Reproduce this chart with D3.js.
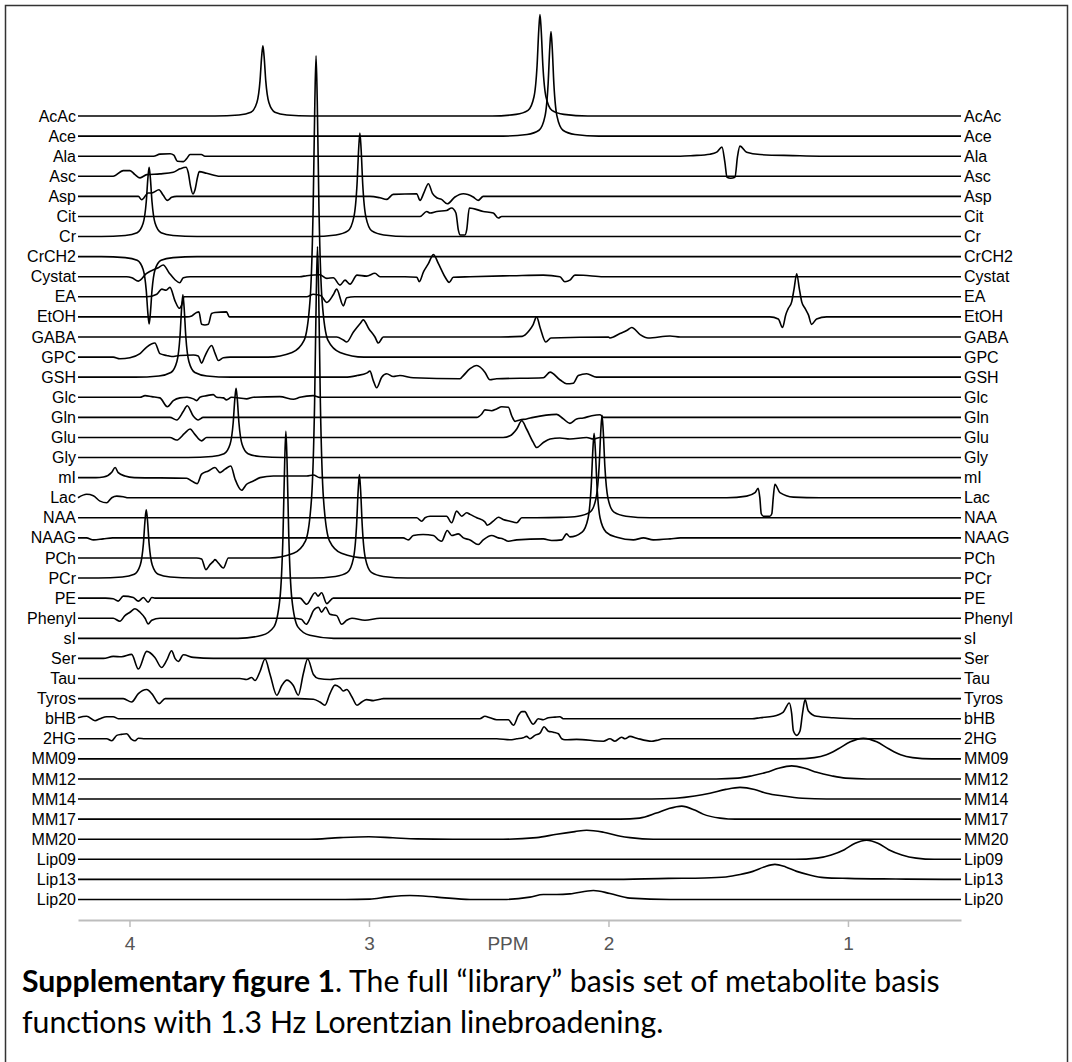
<!DOCTYPE html>
<html>
<head>
<meta charset="utf-8">
<script src="https://cdn.jsdelivr.net/npm/d3@7"></script>
<style>
  body { margin: 0; background: #fff; }
  svg { display: block; }
</style>
</head>
<body>
<script>

// metabolite names, top to bottom
const names = ["AcAc","Ace","Ala","Asc","Asp","Cit","Cr","CrCH2","Cystat","EA","EtOH","GABA","GPC","GSH","Glc","Gln","Glu","Gly","mI","Lac","NAA","NAAG","PCh","PCr","PE","Phenyl","sI","Ser","Tau","Tyros","bHB","2HG","MM09","MM12","MM14","MM17","MM20","Lip09","Lip13","Lip20"];

// each spectrum: [ppm, intensity] (1 unit = one row spacing)
const sp_AcAc = [[3.643,0],[3.543,0.05],[3.493,0.19],[3.468,0.67],[3.455,1.75],[3.448,2.98],[3.443,3.5],[3.438,2.98],[3.431,1.75],[3.418,0.67],[3.393,0.19],[3.343,0.05],[3.243,0],
  [2.486,0],[2.386,0.08],[2.336,0.28],[2.311,0.96],[2.298,2.53],[2.291,4.29],[2.286,5.05],[2.281,4.29],[2.274,2.53],[2.261,0.96],[2.236,0.28],[2.186,0.08],[2.086,0]];
const sp_Ace = [[2.44,0],[2.34,0.08],[2.29,0.29],[2.265,0.99],[2.252,2.6],[2.245,4.42],[2.24,5.2],[2.235,4.42],[2.228,2.6],[2.215,0.99],[2.19,0.29],[2.14,0.08],[2.04,0]];
const sp_Ala = [[3.90,0],[3.873,0.1],[3.83,0.12],[3.815,0.05],[3.80,-0.25],[3.775,-0.27],[3.76,-0.1],[3.747,0.08],[3.70,0.08],[3.685,0],
  [1.70,0],[1.647,0.03],[1.576,0.1],[1.548,0.2],[1.526,0.45],[1.514,-0.3],[1.505,-1.05],[1.49,-1.1],[1.472,-1.05],[1.461,0],[1.451,0.5],[1.423,0.2],[1.367,0.08],[1.23,0.03],[1.117,0]];
const sp_Asc = [[4.09,0],[4.068,0],[4.026,0.28],[3.998,0.28],[3.977,0.08],[3.956,-0.08],[3.928,0.08],[3.873,0.12],[3.817,0.2],[3.789,0.37],[3.764,0.45],[3.755,0.2],[3.745,-0.5],[3.735,-0.88],[3.727,-0.7],[3.715,0],[3.709,0.23],[3.678,0.15],[3.622,0]];
const sp_Asp = [[3.98,0],[3.963,0],[3.949,-0.17],[3.922,0.17],[3.907,0.17],[3.877,0.33],[3.859,0.05],[3.842,-0.2],[3.824,-0.05],[3.803,0],
  [3.02,0],[2.996,0],[2.954,-0.07],[2.926,-0.15],[2.899,0.1],[2.801,0.13],[2.787,-0.2],[2.77,0.2],[2.752,0.63],[2.735,0.15],[2.717,-0.07],[2.697,-0.15],[2.673,-0.37],[2.641,-0.03],[2.606,0.13],[2.565,-0.03],[2.544,-0.2],[2.523,0],[2.50,0]];
const sp_Cit = [[2.80,0],[2.787,0],[2.759,0.25],[2.745,0.17],[2.717,0.25],[2.676,0.3],[2.655,0.42],[2.637,0.17],[2.627,-0.67],[2.62,-0.92],[2.599,-0.92],[2.592,-0.67],[2.581,0.42],[2.523,0.25],[2.481,0.17],[2.46,-0.08],[2.446,0],[2.42,0]];
const sp_Cr = [[4.118,0],[4.018,0.05],[3.968,0.19],[3.943,0.66],[3.93,1.73],[3.923,2.93],[3.918,3.45],[3.913,2.93],[3.906,1.73],[3.893,0.66],[3.868,0.19],[3.818,0.05],[3.718,0],
  [3.238,0],[3.138,0.08],[3.088,0.28],[3.063,0.98],[3.05,2.58],[3.043,4.38],[3.038,5.15],[3.033,4.38],[3.026,2.58],[3.013,0.98],[2.988,0.28],[2.938,0.08],[2.838,0]];
const sp_CrCH2 = [[4.118,0],[4.018,-0.05],[3.968,-0.18],[3.943,-0.64],[3.93,-1.68],[3.923,-2.85],[3.918,-3.35],[3.913,-2.85],[3.906,-1.68],[3.893,-0.64],[3.868,-0.18],[3.818,-0.05],[3.718,0]];
const sp_Cystat = [[4.03,0],[4.012,0],[3.99,-0.05],[3.963,-0.22],[3.93,0.15],[3.88,0.45],[3.859,0.58],[3.835,0.2],[3.81,-0.15],[3.79,-0.3],[3.775,-0.05],[3.747,0],
  [3.29,0],[3.26,0.05],[3.205,0.1],[3.176,-0.08],[3.149,-0.05],[3.121,-0.42],[3.10,-0.17],[3.079,-0.37],[3.05,0.08],[3.01,0.03],[2.975,0.17],[2.954,0],[2.85,0],[2.80,-0.03],[2.79,-0.25],[2.772,0.25],[2.752,0.65],[2.731,1.1],[2.71,0.65],[2.683,0],[2.665,-0.28],[2.648,-0.03],[2.578,0],[2.40,0.05],[2.272,0.08],[2.203,0],[2.182,-0.25],[2.161,-0.17],[2.14,0.08],[2.105,0.07],[2.022,0],[1.98,0]];
const sp_EA = [[3.96,0],[3.928,0],[3.886,0.13],[3.865,0.38],[3.847,0.33],[3.831,0.47],[3.81,-0.2],[3.792,-0.57],[3.782,-0.4],[3.772,0],[3.74,0],
  [3.29,0],[3.26,0],[3.232,0.13],[3.2,0.05],[3.176,-0.28],[3.149,0.1],[3.135,0.38],[3.107,-0.45],[3.093,-0.05],[3.06,0]];
const sp_EtOH = [[3.80,0],[3.761,0],[3.74,0.05],[3.72,0.22],[3.71,0.25],[3.699,-0.37],[3.685,-0.4],[3.671,-0.37],[3.657,0.17],[3.643,0.22],[3.595,0.25],[3.583,0],[3.55,0],
  [1.40,0],[1.326,0],[1.291,-0.1],[1.273,-0.53],[1.26,0.1],[1.25,0.4],[1.235,0.75],[1.225,1.4],[1.214,2.15],[1.203,1.4],[1.193,0.75],[1.178,0.4],[1.165,0.1],[1.152,-0.37],[1.131,-0.1],[1.089,0],[1.0,0]];
const sp_GABA = [[3.17,0],[3.135,0],[3.107,-0.15],[3.093,-0.25],[3.065,0.25],[3.035,0.7],[3.024,0.85],[3.0,0.4],[2.975,0],[2.961,-0.3],[2.94,0],
  [2.45,0],[2.36,0.03],[2.33,0.33],[2.315,0.6],[2.30,1.0],[2.285,0.45],[2.262,-0.25],[2.24,-0.05],[2.0,0],[1.994,-0.05],[1.952,0.17],[1.92,0.35],[1.903,0.47],[1.868,0.12],[1.835,-0.05],[1.743,0.05],[1.70,0]];
const sp_GPC = [[4.10,0],[4.068,0],[4.04,-0.08],[3.998,-0.03],[3.956,0.17],[3.928,0.5],[3.894,0.7],[3.873,0.17],[3.845,0.08],[3.824,0.03],[3.789,0.08],[3.733,0.1],[3.713,0.05],[3.699,-0.3],[3.685,0.05],[3.657,0.58],[3.643,0.2],[3.629,-0.17],[3.608,-0.03],[3.58,0],
  [3.421,0],[3.321,0.23],[3.271,0.83],[3.246,2.85],[3.233,7.5],[3.226,12.75],[3.221,15],[3.216,12.75],[3.209,7.5],[3.196,2.85],[3.171,0.83],[3.121,0.23],[3.021,0]];
const sp_GSH = [[3.977,0],[3.877,0.06],[3.827,0.23],[3.802,0.78],[3.789,2.05],[3.782,3.49],[3.777,4.1],[3.772,3.49],[3.765,2.05],[3.752,0.78],[3.727,0.23],[3.677,0.06],[3.577,0],
  [3.10,0],[3.05,0.08],[3.01,0.2],[2.996,0.3],[2.982,-0.17],[2.968,-0.53],[2.947,0],[2.926,0.17],[2.899,0.03],[2.871,0.08],[2.815,-0.03],[2.62,-0.08],[2.606,0.08],[2.578,0.42],[2.55,0.58],[2.516,0.25],[2.495,-0.13],[2.467,-0.08],[2.272,-0.03],[2.244,0.25],[2.203,-0.13],[2.175,-0.33],[2.147,-0.3],[2.126,0.08],[2.091,0.17],[2.05,0],[2.0,0]];
const sp_Glc = [[3.98,0],[3.956,0],[3.935,0.08],[3.907,0.03],[3.873,-0.03],[3.842,-0.47],[3.817,-0.17],[3.789,-0.03],[3.76,0],[3.733,-0.08],[3.72,-0.17],[3.706,0],[3.678,0.08],[3.65,0.13],[3.636,0],[3.608,-0.03],[3.595,-0.13],[3.574,0],[3.511,-0.08],[3.483,0],[3.372,0.03],[3.316,-0.1],[3.288,0],[3.233,0.08],[3.205,0],[3.15,0]];
const sp_Gln = [[3.86,0],[3.831,0],[3.803,-0.13],[3.775,0.3],[3.759,0.58],[3.733,0.05],[3.713,-0.13],[3.692,0],[3.66,0],
  [2.60,0],[2.55,0],[2.529,0.17],[2.516,0.37],[2.488,0.33],[2.467,0.42],[2.446,0.53],[2.418,0.5],[2.404,0.08],[2.39,-0.2],[2.37,-0.13],[2.342,-0.08],[2.314,0],[2.216,0.15],[2.188,-0.08],[2.161,-0.3],[2.133,-0.08],[2.105,-0.03],[2.07,0.08],[2.035,0.13],[2.021,0],[1.98,0]];
const sp_Glu = [[3.86,0],[3.831,0],[3.803,-0.13],[3.77,0.2],[3.747,0.42],[3.727,0.15],[3.699,-0.17],[3.678,0],[3.65,0],
  [2.47,0],[2.44,0],[2.411,0.08],[2.383,0.42],[2.362,0.83],[2.342,0.42],[2.314,-0.25],[2.30,-0.5],[2.272,-0.25],[2.244,-0.08],[2.203,-0.03],[2.161,-0.08],[2.091,0],[2.063,-0.08],[2.035,0],[2.0,0]];
const sp_Gly = [[3.755,0],[3.655,0.05],[3.605,0.19],[3.58,0.66],[3.567,1.73],[3.56,2.93],[3.555,3.45],[3.55,2.93],[3.543,1.73],[3.53,0.66],[3.505,0.19],[3.455,0.05],[3.355,0]];
const sp_mI = [[4.14,0],[4.109,0.03],[4.074,0.27],[4.06,0.5],[4.047,0.25],[4.019,0.08],[3.98,0],[3.761,-0.03],[3.74,-0.17],[3.717,-0.3],[3.699,0.17],[3.671,0.33],[3.643,0.5],[3.622,0.25],[3.601,0.42],[3.577,0.58],[3.559,-0.08],[3.532,-0.63],[3.511,-0.33],[3.483,-0.17],[3.455,0],[3.399,0.08],[3.343,0.08],[3.26,0.08],[3.232,0.13],[3.205,0],[3.15,0]];
const sp_Lac = [[4.215,0],[4.179,0.17],[4.151,0.1],[4.123,-0.17],[4.095,-0.25],[4.074,0],[4.053,0.08],[4.026,0.05],[4.005,0],
  [1.55,0],[1.506,0],[1.423,0.08],[1.388,0.25],[1.375,0.47],[1.368,0],[1.362,-0.8],[1.353,-0.92],[1.326,-0.92],[1.318,-0.8],[1.312,0],[1.305,0.67],[1.284,0.25],[1.228,0.03],[1.117,0]];
const sp_NAA = [[2.85,0],[2.829,0],[2.801,0],[2.78,-0.17],[2.766,0],[2.745,0.08],[2.676,0.08],[2.655,-0.25],[2.634,0.33],[2.613,0.08],[2.592,0.25],[2.578,0.17],[2.55,0],[2.516,-0.2],[2.506,-0.37],[2.481,-0.17],[2.46,0.03],[2.44,-0.08],[2.411,-0.17],[2.383,-0.25],[2.362,0],[2.30,0],[2.2,0.02],
  [2.127,0.08],[2.077,0.28],[2.052,0.97],[2.039,2.55],[2.032,4.34],[2.027,5.1],[2.022,4.34],[2.015,2.55],[2.002,0.97],[1.977,0.28],[1.927,0.08],[1.827,0]];
const sp_NAAG = [[4.18,0],[4.15,-0.1],[4.11,-0.05],[4.07,0],
  [2.88,0],[2.857,0],[2.836,-0.1],[2.815,0.12],[2.774,0.17],[2.731,0.12],[2.71,-0.1],[2.697,-0.17],[2.673,0.37],[2.655,0.12],[2.627,0.2],[2.606,0],[2.578,-0.1],[2.544,-0.33],[2.523,-0.1],[2.488,0.12],[2.46,0],[2.44,-0.05],[2.418,-0.17],[2.383,-0.1],[2.272,-0.05],[2.237,-0.13],[2.195,-0.1],[2.175,0.2],[2.161,0.05],
  [2.11,0.29],[2.085,0.99],[2.072,2.6],[2.065,4.42],[2.06,5.2],[2.055,4.42],[2.048,2.6],[2.035,0.99],[2.01,0.29],[1.965,0.03],[1.896,-0.1],[1.854,0],[1.813,-0.1],[1.743,-0.05],[1.70,0]];
const sp_PCh = [[3.75,0],[3.72,0],[3.699,-0.05],[3.681,-0.58],[3.664,-0.33],[3.65,-0.17],[3.643,-0.08],[3.629,-0.25],[3.608,-0.5],[3.587,0],[3.55,0],
  [3.415,0],[3.315,0.23],[3.265,0.85],[3.24,2.95],[3.227,7.75],[3.22,13.18],[3.215,15.5],[3.21,13.18],[3.203,7.75],[3.19,2.95],[3.165,0.85],[3.115,0.23],[3.015,0]];
const sp_PCr = [[4.13,0],[4.03,0.05],[3.98,0.19],[3.955,0.65],[3.942,1.7],[3.935,2.89],[3.93,3.4],[3.925,2.89],[3.918,1.7],[3.905,0.65],[3.88,0.19],[3.83,0.05],[3.73,0],
  [3.24,0],[3.14,0.08],[3.09,0.28],[3.065,0.98],[3.052,2.58],[3.045,4.38],[3.04,5.15],[3.035,4.38],[3.028,2.58],[3.015,0.98],[2.99,0.28],[2.94,0.08],[2.84,0]];
const sp_PE = [[4.10,0],[4.068,-0.03],[4.047,-0.15],[4.026,0.1],[3.984,0.03],[3.963,-0.15],[3.942,0.03],[3.922,-0.2],[3.907,0.03],[3.894,0],[3.86,0],
  [3.32,0],[3.288,0],[3.26,-0.3],[3.225,0.27],[3.213,0.1],[3.198,0.27],[3.176,-0.27],[3.149,0],[3.12,0]];
const sp_Phenyl = [[4.10,0],[4.068,0],[4.04,-0.15],[4.019,0.13],[3.998,0.3],[3.977,0.47],[3.956,0.3],[3.935,0],[3.922,-0.28],[3.907,-0.1],[3.873,0],
  [3.32,0],[3.283,-0.05],[3.262,-0.3],[3.246,0],[3.232,0.38],[3.211,0.55],[3.198,0.3],[3.181,0.55],[3.163,0.2],[3.135,0.13],[3.114,-0.3],[3.093,-0.1],[3.071,0],[3.017,-0.1],[2.954,0],[2.92,0]];
const sp_sI = [[3.547,0],[3.447,0.15],[3.397,0.57],[3.372,1.96],[3.359,5.15],[3.352,8.76],[3.347,10.3],[3.342,8.76],[3.335,5.15],[3.322,1.96],[3.297,0.57],[3.247,0.15],[3.147,0]];
const sp_Ser = [[4.13,0],[4.109,0],[4.068,0.1],[4.033,0.08],[3.991,0.2],[3.963,-0.53],[3.928,0.35],[3.894,0.05],[3.866,-0.45],[3.845,-0.1],[3.824,0.38],[3.81,0],[3.796,-0.15],[3.775,0.18],[3.733,0.05],[3.65,0]];
const sp_Tau = [[3.56,0],[3.539,0],[3.511,-0.05],[3.49,0.05],[3.476,-0.1],[3.455,0.35],[3.434,0.97],[3.413,0.2],[3.385,-0.83],[3.364,-0.35],[3.343,-0.08],[3.316,-0.35],[3.295,-0.83],[3.274,0.25],[3.256,0.97],[3.232,0.2],[3.211,0],[3.163,-0.05],[3.121,0],[3.08,0]];
const sp_Tyros = [[4.05,0],[4.026,0],[3.991,-0.17],[3.963,0.25],[3.928,0.45],[3.907,0.25],[3.876,-0.25],[3.851,0],[3.789,0],
  [3.30,0],[3.232,-0.03],[3.205,-0.17],[3.184,-0.33],[3.163,0.25],[3.142,0.67],[3.121,0.55],[3.107,0.38],[3.093,0.45],[3.071,0.08],[3.05,-0.33],[3.03,-0.17],[3.01,-0.05],[2.982,-0.1],[2.954,-0.03],[2.94,0],[2.9,0]];
const sp_bHB = [[4.215,0.05],[4.179,0.12],[4.144,-0.1],[4.123,0],[4.095,0.1],[4.068,0.1],[4.047,0],[4.0,0],
  [2.56,0],[2.537,0],[2.516,0.12],[2.495,0.05],[2.467,-0.05],[2.418,-0.05],[2.397,-0.33],[2.376,0.17],[2.362,0.35],[2.349,0.35],[2.335,0.08],[2.314,-0.28],[2.293,0],[2.272,-0.05],[2.251,0.05],[2.223,0.08],[2.203,0.1],[2.189,0],[2.15,0],
  [1.40,0],[1.367,0.05],[1.312,0.12],[1.27,0.33],[1.245,0.78],[1.235,0.25],[1.228,-0.6],[1.214,-0.83],[1.20,-0.6],[1.19,0.25],[1.179,0.95],[1.166,0.4],[1.131,0.12],[1.061,0.05],[0.95,0]];
const sp_2HG = [[4.12,0],[4.095,0],[4.074,-0.1],[4.053,0.17],[4.033,0.22],[4.012,0.25],[3.991,-0.03],[3.977,-0.1],[3.963,0.03],[3.935,0],[3.90,0],
  [2.50,0],[2.467,0],[2.411,-0.05],[2.383,0],[2.356,0.05],[2.342,0.12],[2.328,0],[2.307,0.17],[2.286,0.28],[2.269,0.6],[2.251,0.38],[2.23,0.33],[2.209,0.25],[2.195,0],[2.182,-0.05],[2.133,-0.03],[2.021,-0.12],[1.994,0],[1.973,-0.12],[1.945,0.08],[1.931,0],[1.91,0.12],[1.882,0.03],[1.82,-0.12],[1.799,-0.08],[1.771,0],[1.74,0]];
const sp_MM09 = [[1.22,0],[1.14,0.06],[1.09,0.2],[1.04,0.5],[0.99,0.85],[0.936,1.02],[0.88,0.85],[0.83,0.5],[0.78,0.2],[0.73,0.06],[0.65,0]];
const sp_MM12 = [[1.55,0],[1.46,0.04],[1.40,0.16],[1.34,0.33],[1.29,0.53],[1.235,0.65],[1.18,0.53],[1.13,0.33],[1.07,0.16],[1.01,0.04],[0.92,0]];
const sp_MM14 = [[1.82,0],[1.72,0.04],[1.64,0.15],[1.576,0.29],[1.51,0.48],[1.451,0.58],[1.39,0.48],[1.34,0.29],[1.27,0.15],[1.19,0.04],[1.09,0]];
const sp_MM17 = [[1.95,0],[1.87,0.05],[1.80,0.3],[1.75,0.52],[1.694,0.65],[1.64,0.45],[1.605,0.25],[1.534,0.05],[1.50,0.01],[1.44,0]];
const sp_MM20 = [[3.25,0],[3.12,0.08],[3.0,0.12],[2.90,0.07],[2.80,0.02],[2.65,0],[2.44,0],[2.30,0.08],[2.216,0.25],[2.14,0.38],[2.091,0.45],[2.021,0.35],[1.95,0.15],[1.91,0.08],[1.813,0],[1.75,0]];
const sp_Lip09 = [[1.22,0],[1.13,0.06],[1.07,0.22],[1.015,0.48],[0.97,0.8],[0.922,0.95],[0.875,0.8],[0.83,0.48],[0.775,0.22],[0.715,0.06],[0.64,0]];
const sp_Lip13 = [[2.0,0],[1.75,0.05],[1.60,0.07],[1.51,0.12],[1.45,0.24],[1.397,0.4],[1.35,0.62],[1.305,0.75],[1.26,0.62],[1.214,0.4],[1.16,0.22],[1.10,0.09],[1.0,0.05],[0.8,0.02],[0.6,0]];
const sp_Lip20 = [[3.10,0],[2.996,0.02],[2.926,0.12],[2.829,0.2],[2.717,0.12],[2.578,0],[2.44,0],[2.328,0.12],[2.272,0.25],[2.216,0.25],[2.161,0.28],[2.063,0.45],[1.994,0.3],[1.91,0.07],[1.743,0],[1.70,0]];

const spectra = [sp_AcAc, sp_Ace, sp_Ala, sp_Asc, sp_Asp, sp_Cit, sp_Cr, sp_CrCH2, sp_Cystat, sp_EA,
  sp_EtOH, sp_GABA, sp_GPC, sp_GSH, sp_Glc, sp_Gln, sp_Glu, sp_Gly, sp_mI, sp_Lac,
  sp_NAA, sp_NAAG, sp_PCh, sp_PCr, sp_PE, sp_Phenyl, sp_sI, sp_Ser, sp_Tau, sp_Tyros,
  sp_bHB, sp_2HG, sp_MM09, sp_MM12, sp_MM14, sp_MM17, sp_MM20, sp_Lip09, sp_Lip13, sp_Lip20];

const ppmTicks = [4, 3, 2, 1];

const width = 1072, height = 1062;

const svg = d3.select("body").append("svg")
    .attr("width", width)
    .attr("height", height);

svg.append("rect").attr("width", width).attr("height", height).attr("fill", "#fff");

// page frame (no bottom edge)
svg.append("path")
    .attr("d", "M5.5," + height + "V5.5H1067.5V" + height)
    .attr("fill", "none")
    .attr("stroke", "#333")
    .attr("stroke-width", 1.5);

var x = d3.scaleLinear().domain([4.215, 0.528]).range([78, 961]);
var row = d3.scalePoint().domain(names).range([116, 899.5]);
var amp = d3.scaleLinear().domain([0, 1]).range([0, -row.step()]);

var g = svg.append("g");

names.forEach(function(name, i) {
    var base = row(name);
    var pts = spectra[i].slice().sort(function(a, b) { return b[0] - a[0]; });
    var d0 = x.domain();
    if (pts[0][0] < d0[0]) pts.unshift([d0[0], 0]);
    if (pts[pts.length - 1][0] > d0[1]) pts.push([d0[1], 0]);

    var line = d3.line()
        .x(function(d) { return x(d[0]); })
        .y(function(d) { return base + amp(d[1]); })
        .curve(d3.curveMonotoneX);

    g.append("path")
        .datum(pts)
        .attr("d", line)
        .attr("fill", "none")
        .attr("stroke", "#000")
        .attr("stroke-width", 1.6)
        .attr("stroke-linejoin", "round");
});

// row labels both sides
var labelFont = "'Liberation Sans', Arial, Helvetica, sans-serif";
svg.append("g").selectAll("text")
    .data(names)
    .enter().append("text")
    .attr("x", 76)
    .attr("y", function(d) { return row(d); })
    .attr("dy", "0.35em")
    .attr("text-anchor", "end")
    .style("font-family", labelFont)
    .style("font-size", "16px")
    .text(function(d) { return d; });

svg.append("g").selectAll("text")
    .data(names)
    .enter().append("text")
    .attr("x", 964)
    .attr("y", function(d) { return row(d); })
    .attr("dy", "0.35em")
    .style("font-family", labelFont)
    .style("font-size", "16px")
    .text(function(d) { return d; });

// ppm axis
var axis = svg.append("g")
    .attr("transform", "translate(0,920)")
    .call(d3.axisBottom(x).tickValues(ppmTicks).tickSize(7).tickSizeOuter(0).tickPadding(10).tickFormat(d3.format("d")));
axis.select(".domain").attr("stroke", "#bdbdbd").attr("stroke-width", 2);
axis.selectAll(".tick line").attr("stroke", "#bdbdbd").attr("stroke-width", 1.5);
axis.selectAll(".tick text")
    .attr("fill", "#555")
    .style("font-family", labelFont)
    .style("font-size", "19px");

svg.append("text")
    .attr("x", 508)
    .attr("y", 920 + 7 + 10)
    .attr("dy", "0.71em")
    .attr("text-anchor", "middle")
    .attr("fill", "#555")
    .style("font-family", labelFont)
    .style("font-size", "19px")
    .text("PPM");

// caption
var capFont = "Lato, 'Open Sans', sans-serif";
var cap1 = svg.append("text")
    .attr("x", 22).attr("y", 992)
    .style("font-family", capFont)
    .style("font-size", "26px");
cap1.append("tspan").style("font-weight", "bold").text("Supplementary figure 1");
cap1.append("tspan").text(". The full \u201Clibrary\u201D basis set of metabolite basis");

var cap2 = svg.append("text")
    .attr("x", 22).attr("y", 1033)
    .style("font-family", capFont)
    .style("font-size", "26px")
    .text("functions with 1.3 Hz Lorentzian linebroadening.");

// fit caption width to the reference line length
var len1 = cap1.node().getComputedTextLength();
var fs = 26 * 918 / len1;
cap1.style("font-size", fs + "px");
cap2.style("font-size", fs + "px");

</script>
</body>
</html>
